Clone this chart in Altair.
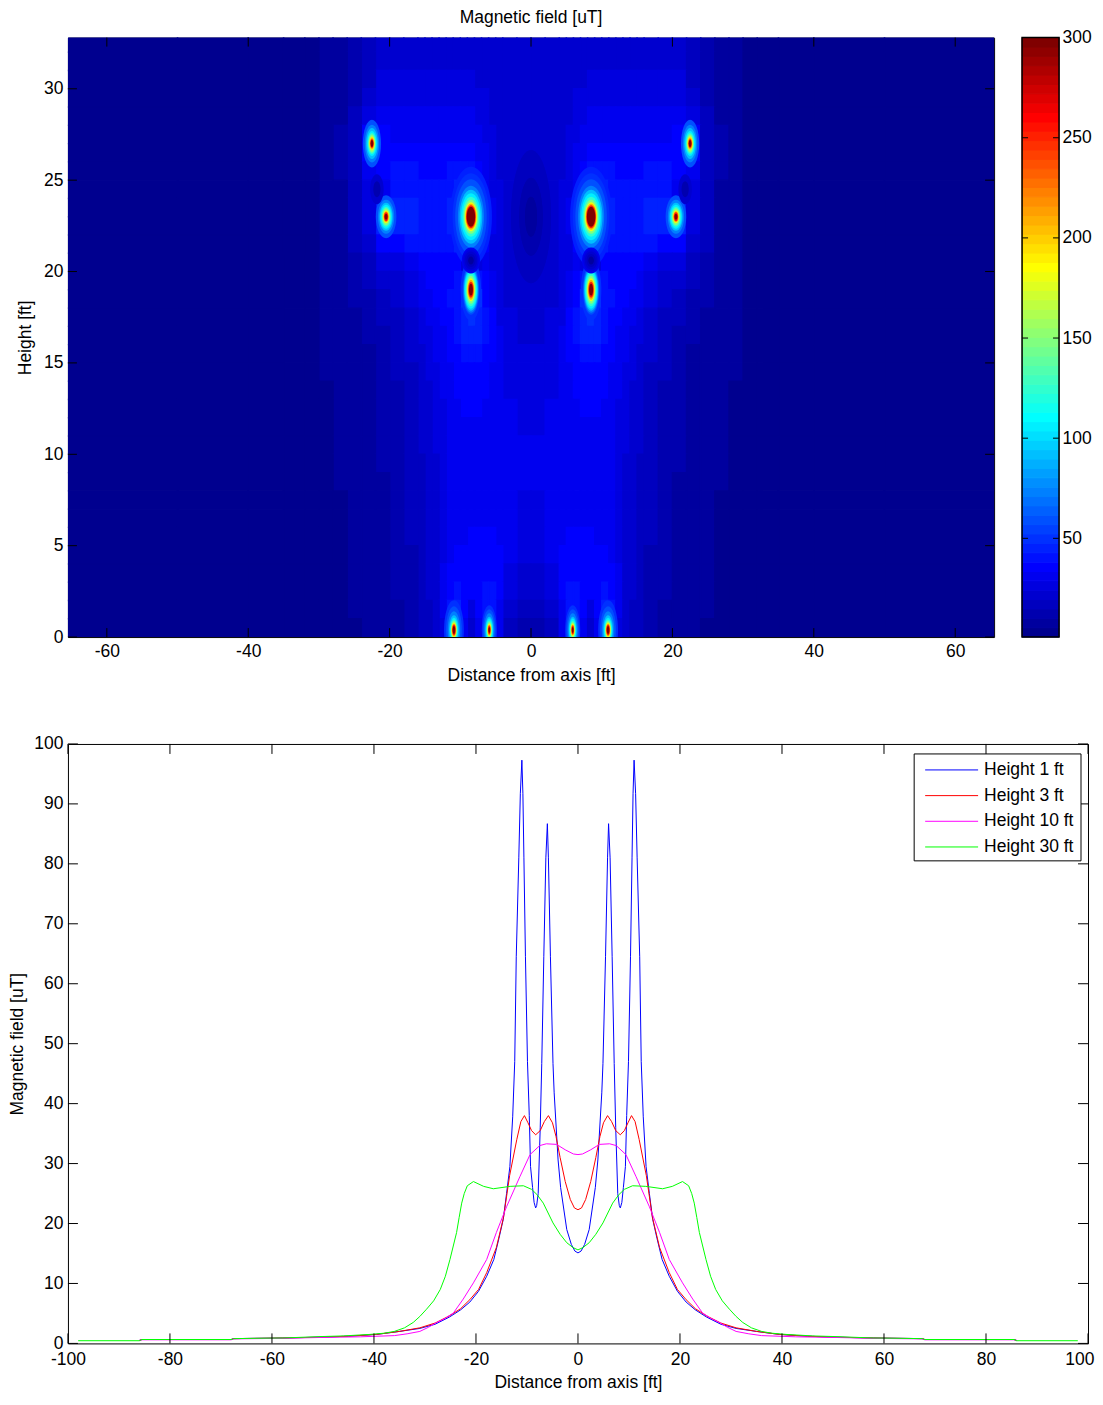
import altair as alt
import numpy as np
import pandas as pd

FONT = "Liberation Sans"
FS = 17.5

# ---- field map (one half, the field is mirrored about x = 0)
x_edges = [0,2,4,5,6,7,8,9,10,11,12,13,14,15,16,18,20,22,24,26,28,30,32,35,40,50,66]
y_edges = list(range(0, 34))
field_rows = [  # top row (y 32..33) first
[20,21,21,22,22,22,22,22,22,22,22,22,22,22,22,21,20,15,11,8,6,5,4,3,2,1],
[20,21,21,22,22,23,23,23,24,24,24,24,24,24,24,24,22,17,12,8,6,5,4,3,2,1],
[20,21,22,22,23,24,25,25,25,25,26,26,26,26,26,26,25,19,13,9,7,5,4,3,2,1],
[20,21,22,23,25,26,27,27,28,28,28,28,28,28,28,28,28,22,14,10,7,5,4,3,2,1],
[20,21,22,24,26,28,30,30,31,31,31,31,31,31,31,31,31,28,16,10,7,5,4,3,2,1],
[20,21,23,25,28,30,32,33,33,33,33,33,33,33,33,33,35,38,18,11,7,5,4,3,2,1],
[20,22,24,27,30,33,35,36,36,36,36,36,36,36,36,36,37,38,19,11,7,5,4,3,2,1],
[20,22,24,27,31,37,42,42,40,39,38,38,38,38,40,40,34,30,18,11,7,5,4,3,2,1],
[20,22,25,28,33,42,48,46,44,42,41,41,41,41,42,42,30,26,15,10,7,5,4,3,2,1],
[20,22,25,29,35,50,55,50,48,44,42,42,42,42,44,45,45,25,18,10,7,5,4,3,2,1],
[20,22,25,29,35,50,55,50,47,44,42,42,42,42,44,45,45,28,16,10,7,5,4,3,2,1],
[20,22,25,28,34,42,46,44,43,41,40,40,39,39,39,38,36,24,15,10,7,5,4,3,2,1],
[20,22,25,28,30,28,24,28,34,38,38,37,36,35,32,28,25,19,14,9,7,5,4,3,2,1],
[21,23,26,30,36,40,42,41,39,38,37,36,34,32,28,23,20,16,12,9,7,5,4,3,2,1],
[22,24,27,32,38,48,60,48,42,40,38,36,33,30,25,21,17,14,11,8,6,5,4,3,2,1],
[23,25,28,34,40,44,48,44,41,38,36,33,31,28,23,19,15,12,10,8,6,5,4,3,2,1],
[24,26,29,35,40,43,44,43,39,36,33,30,28,25,21,17,14,11,9,7,6,5,4,3,2,1],
[25,27,30,34,37,39,40,39,37,34,31,29,26,24,20,16,13,10,9,7,6,5,4,3,2,1],
[26,28,30,33,35,36,37,37,35,33,30,28,25,22,19,15,12,10,8,7,6,4,4,3,2,1],
[27,28,30,32,34,35,35,35,34,32,29,27,24,21,18,14,12,9,8,6,5,4,4,3,2,1],
[27,29,30,32,33,34,34,34,33,31,28,26,23,21,17,14,11,9,7,6,5,4,3,3,2,1],
[28,29,31,32,33,33,33,33,32,30,28,25,23,20,16,13,11,9,7,6,5,4,3,3,2,1],
[29,30,31,32,33,33,33,32,31,30,27,25,22,20,16,13,11,9,7,6,5,4,3,3,2,1],
[30,31,32,33,33,33,33,32,31,29,27,24,22,19,16,13,11,8,7,6,5,4,3,2,2,1],
[30,31,32,33,33,33,32,32,31,29,27,24,21,19,15,12,10,8,7,6,5,4,3,2,2,1],
[28,30,32,33,33,33,32,32,31,29,27,24,21,19,15,12,10,8,7,5,4,4,3,2,2,1],
[27,29,32,33,33,33,33,32,31,29,27,24,21,19,15,12,10,8,6,5,4,4,3,2,2,1],
[26,29,32,34,34,34,34,33,32,30,27,24,21,18,15,12,9,8,6,5,4,4,3,2,2,1],
[25,29,34,36,36,36,35,35,34,31,28,24,21,18,14,12,9,8,6,5,4,4,3,2,2,1],
[24,28,35,38,38,37,36,36,37,34,29,24,21,18,14,11,9,7,6,5,4,3,3,2,1,1],
[21,26,34,40,41,38,34,37,41,37,30,24,20,17,14,11,9,7,6,5,4,3,3,2,1,1],
[17,22,33,40,42,36,27,36,44,40,30,23,19,16,13,10,9,7,6,5,4,3,3,2,1,1],
[14,18,30,40,40,32,22,30,45,40,28,21,18,15,12,10,8,7,5,5,4,3,3,2,1,1],
]

# ---- local peaks and dips of the field: x, y, aspect and (level, contour height) pairs
spot_x = [0.0, 8.5, 8.5, 8.5, 20.5, 22.5, 21.8, 10.9, 5.9]
spot_y = [23.0, 23.0, 19.0, 20.6, 23.0, 27.0, 24.5, 0.38, 0.38]
spot_aspect = [0.30, 0.42, 0.33, 0.7, 0.48, 0.38, 0.45, 0.33, 0.30]
spot_levels = [
    [17,12,8],
    [45,50,60,75,90,105,125,150,180,210,250,300],
    [50,60,75,90,105,125,150,180,210,250,300],
    [30,25,20,15,10],
    [60,75,90,105,125,150,180,210,250,300],
    [60,75,90,105,125,150,180,210,250,300],
    [22,14],
    [50,60,75,90,105,125,150,180,210,250,300],
    [50,60,75,90,105,125,150,180,210,250,300],
]
spot_heights = [
    [133,78,40],
    [100,87,75,62,54,47,40,34,29,26,23,20],
    [62,50,46,42,38,33,28,23,20,16,12],
    [26,22,18,13,8],
    [43,34,28,24,20,17,13,11,9,6],
    [48,38,31,25,21,18,14,12,9,7],
    [30,16],
    [60,48,38,30,25,21,18,15,13,11,8],
    [50,42,34,27,23,19,16,13,11,9,6],
]

# ---- profiles (x >= 0 half, mirrored)
blue_x = [0,0.6,1.3,2.2,3.4,3.9,4.67,4.9,5.4,5.8,6.0,6.3,6.7,7.1,7.4,7.8,8.1,8.3,8.6,8.9,9.3,9.55,9.9,10.3,10.6,10.8,11,11.3,11.6,12.1,12.4,12.8,13.35,14,14.65,15.5,16.5,17.9,19.5,21.2,23,25.2,28,31,35,39.5,45,50,58,67.5,68,85.5,86]
blue_v = [15.1,15.4,16.5,19,26,30.6,41.8,46.7,64.5,81,86.7,81,64.5,46.7,36,25,23,22.6,23.5,26,29.5,38,47,64.5,81,91.7,97.3,91.7,81,64.5,47,37.8,29.5,25,20.7,17.5,14,11.2,8.7,6.9,5.6,4.4,3.2,2.5,2,1.5,1.2,1.05,0.9,0.8,0.65,0.65,0.5]
red_x = [0,0.7,1.5,2.5,3.5,4.3,5,5.8,6.6,7.4,8.3,9.1,9.8,10.5,11.2,12,13.4,14.6,16,17.9,19.5,21.2,23,25.2,28,31,35,39.5,45,50,58,67.5,68,85.5,86]
red_v = [22.3,22.6,24,27,31,34.5,36.8,38,37,35.5,34.8,35.5,36.8,38,37,34,28,21,16,11.8,9,7.3,5.8,4.6,3.4,2.6,2,1.5,1.2,1.05,0.9,0.8,0.65,0.65,0.5]
mag_x = [0,0.9,2.5,4.2,6.2,7.5,9.4,11.4,14,16,17.9,20.5,22.5,24.4,26,27.7,29.3,31,33.5,36,42.7,50,58,67.5,68,85.5,86]
mag_v = [31.5,31.6,32.3,33.2,33.3,33,31.5,27.8,22.8,18.5,14,10.1,7.4,5.1,4.2,3.5,2.7,2,1.6,1.3,1.1,1,0.85,0.75,0.6,0.6,0.5]
green_x = [0,1,2.2,3.5,4.9,6.8,8,9.1,10.7,13.3,16.6,18.5,20.5,21.7,22.3,22.8,23.3,23.8,25.1,26,27,28.3,29.7,31,32.3,34,36,38,40.8,46,50,58,67.5,68,85.5,86,98]
green_v = [15.6,16,16.8,18.2,20.1,23.4,24.8,25.7,26.3,26.2,25.8,26.2,27,26.3,25,23.4,21,18.5,14,11.2,9,7.1,5.7,4.5,3.5,2.6,2,1.7,1.5,1.25,1.15,0.9,0.8,0.65,0.65,0.45,0.45]
series_names = ["Height 1 ft", "Height 3 ft", "Height 10 ft", "Height 30 ft"]
series_colors = ["#0000ff", "#ff0000", "#ff00ff", "#00ff00"]

top_xticks = [-60,-40,-20,0,20,40,60]
top_yticks = [0,5,10,15,20,25,30]
bar_ticks = [50,100,150,200,250,300]
bot_xticks = list(range(-100,101,20))
bot_yticks = list(range(0,101,10))

# ---- jet colormap, 64 steps
def jet(n=64):
    out = []
    for i in range(n):
        t = (i + 1) / n
        r = np.clip(min(4*t-1.5, -4*t+4.5), 0, 1)
        g = np.clip(min(4*t-0.5, -4*t+3.5), 0, 1)
        b = np.clip(min(4*t+0.5, -4*t+2.5), 0, 1)
        out.append("#%02x%02x%02x" % (int(round(r*255)), int(round(g*255)), int(round(b*255))))
    return out
JET = jet()
C_MIN, C_MAX = 0.7, 300
color_scale = alt.Scale(type="quantize", domain=[C_MIN, C_MAX], range=JET)

W1, H1 = 927, 600
W2, H2 = 1021, 600

# ---- tables
cells = []
for r, row in enumerate(field_rows):
    y1 = y_edges[len(field_rows) - 1 - r]
    y2 = y_edges[len(field_rows) - r]
    for c, v in enumerate(row):
        for s in (-1, 1):
            a, b = s * x_edges[c], s * x_edges[c + 1]
            cells.append(dict(x=a, x2=b, y=y1, y2=y2, v=v))
cells = pd.DataFrame(cells)

x1_scale = alt.Scale(domain=[-65.5, 65.5], nice=False, zero=False)
y1_scale = alt.Scale(domain=[0, 32.8], nice=False, zero=False)

x1_axis = alt.Axis(values=top_xticks, ticks=False, domain=False, grid=False, labelFlush=False,
                   title="Distance from axis [ft]", labelExpr="'' + datum.value",
                   labelPadding=5, titlePadding=7)
y1_axis = alt.Axis(values=top_yticks, ticks=False, domain=False, grid=False, labelFlush=False,
                   title="Height [ft]", labelExpr="'' + datum.value", labelPadding=5, titlePadding=9)

heat = alt.Chart(cells).mark_rect(clip=True, strokeWidth=1.4, opacity=1).encode(
    x=alt.X("x:Q", scale=x1_scale, axis=x1_axis),
    x2="x2:Q",
    y=alt.Y("y:Q", scale=y1_scale, axis=y1_axis),
    y2="y2:Q",
    color=alt.Color("v:Q", scale=color_scale, legend=None),
    stroke=alt.Stroke("v:Q", scale=color_scale, legend=None),
)

spot_layers = []
for k in range(len(spot_x)):
    rows = []
    for lv, h in zip(spot_levels[k], spot_heights[k]):
        for s in (-1, 1):
            rows.append(dict(x=s*spot_x[k], y=spot_y[k], v=lv, s=h*h))
    asp = spot_aspect[k]
    path = f"M{-asp},0 A{asp},1 0 1,1 {asp},0 A{asp},1 0 1,1 {-asp},0 Z"
    spot_layers.append(alt.Chart(pd.DataFrame(rows)).mark_point(shape=path, filled=True, opacity=1, clip=True, strokeWidth=0).encode(
        x=alt.X("x:Q", scale=x1_scale, axis=x1_axis),
        y=alt.Y("y:Q", scale=y1_scale, axis=y1_axis),
        color=alt.Color("v:Q", scale=color_scale, legend=None),
        size=alt.Size("s:Q", scale=None, legend=None),
    ))

def ticks(xvals, yvals, w, h, lx, ly, xs, ys, xa, ya):
    tx = pd.DataFrame({"t": xvals})
    ty = pd.DataFrame({"t": yvals})
    out = []
    for a, b in ((h, h - lx), (0, lx)):
        out.append(alt.Chart(tx).mark_rule(color="#000", strokeWidth=1).encode(
            x=alt.X("t:Q", scale=xs, axis=xa), y=alt.value(a), y2=alt.value(b)))
    for a, b in ((0, ly), (w, w - ly)):
        out.append(alt.Chart(ty).mark_rule(color="#000", strokeWidth=1).encode(
            y=alt.Y("t:Q", scale=ys, axis=ya), x=alt.value(a), x2=alt.value(b)))
    return out

top_main = alt.LayerChart(layer=[heat] + spot_layers + ticks(top_xticks, top_yticks, W1, H1, 9, 9, x1_scale, y1_scale, x1_axis, y1_axis))

# ---- colour bar
edges = np.linspace(C_MIN, C_MAX, 65)
bar_df = pd.DataFrame({"lo": edges[:-1], "hi": edges[1:], "v": (edges[:-1] + edges[1:]) / 2})
bar_scale = alt.Scale(domain=[C_MIN, C_MAX], nice=False, zero=False)
bar_axis = alt.Axis(orient="right", offset=65, values=bar_ticks, ticks=False, domain=False, labelFlush=False,
                    grid=False, title=None, labelPadding=3, labelExpr="'' + datum.value")
BX0, BX1 = W1 + 28, W1 + 65
bar = alt.Chart(bar_df).mark_rect(strokeWidth=1, opacity=1).encode(
    x=alt.value(BX0), x2=alt.value(BX1),
    y=alt.Y("lo:Q", scale=bar_scale, axis=bar_axis),
    y2="hi:Q",
    color=alt.Color("v:Q", scale=color_scale, legend=None),
    stroke=alt.Stroke("v:Q", scale=color_scale, legend=None),
)
bar_box = alt.Chart(pd.DataFrame({"a": [C_MIN], "b": [C_MAX]})).mark_rect(fillOpacity=0, stroke="#000", strokeWidth=1.5).encode(
    x=alt.value(BX0), x2=alt.value(BX1),
    y=alt.Y("a:Q", scale=bar_scale, axis=bar_axis), y2="b:Q")
bt = pd.DataFrame({"t": bar_ticks[:-1]})
bar_t1 = alt.Chart(bt).mark_rule(color="#000").encode(
    y=alt.Y("t:Q", scale=bar_scale, axis=bar_axis), x=alt.value(BX0), x2=alt.value(BX0 + 6))
bar_t2 = alt.Chart(bt).mark_rule(color="#000").encode(
    y=alt.Y("t:Q", scale=bar_scale, axis=bar_axis), x=alt.value(BX1 - 6), x2=alt.value(BX1))
bar_layer = alt.LayerChart(layer=[bar, bar_box, bar_t1, bar_t2])

top = alt.LayerChart(layer=[top_main, bar_layer]).resolve_scale(y="independent").properties(
    width=W1, height=H1,
    title=alt.TitleParams("Magnetic field [uT]", font=FONT, fontSize=FS, fontWeight="normal",
                          color="#000", anchor="middle", offset=2),
)

# ---- profiles
profiles = []
for name, xs_, vs_ in zip(series_names, (blue_x, red_x, mag_x, green_x), (blue_v, red_v, mag_v, green_v)):
    for a, b in zip(xs_, vs_):
        profiles.append(dict(x=a, v=b, s=name))
        if a != 0:
            profiles.append(dict(x=-a, v=b, s=name))
profiles = pd.DataFrame(profiles)

x2_scale = alt.Scale(domain=[-100, 100], nice=False, zero=False)
y2_scale = alt.Scale(domain=[0, 100], nice=False, zero=False)
x2_axis = alt.Axis(values=bot_xticks, ticks=False, domain=False, grid=False, labelFlush=False,
                   title="Distance from axis [ft]", labelExpr="'' + datum.value",
                   labelPadding=7, titlePadding=6,
                   labelAlign={"condition": {"test": "datum.value == 100", "value": "right"}, "value": "center"},
                   labelOffset={"condition": {"test": "datum.value == 100", "value": 6}, "value": 0})
y2_axis = alt.Axis(values=bot_yticks, ticks=False, domain=False, grid=False, labelFlush=False,
                   title="Magnetic field [uT]", labelExpr="'' + datum.value",
                   labelPadding=5, titlePadding=7)

lines = []
for name, col in zip(series_names, series_colors):
    lines.append(alt.Chart(profiles[profiles.s == name]).mark_line(color=col, strokeWidth=1, clip=True).encode(
        x=alt.X("x:Q", scale=x2_scale, axis=x2_axis),
        y=alt.Y("v:Q", scale=y2_scale, axis=y2_axis),
    ))

one = pd.DataFrame({"n": [0]})
LX0, LX1, LY0, LY1 = 847, 1014, 10, 117
legend = [alt.Chart(one).mark_rect(fill="#fff", stroke="#000", strokeWidth=1).encode(
    x=alt.value(LX0), x2=alt.value(LX1), y=alt.value(LY0), y2=alt.value(LY1))]
for i, (name, col) in enumerate(zip(series_names, series_colors)):
    ypos = 26 + 25.7 * i
    legend.append(alt.Chart(one).mark_rule(color=col, strokeWidth=1).encode(
        x=alt.value(858), x2=alt.value(911), y=alt.value(ypos)))
    legend.append(alt.Chart(one).mark_text(text=name, align="left", baseline="middle", font=FONT,
                                           fontSize=FS, color="#000").encode(
        x=alt.value(917), y=alt.value(ypos)))

bottom = alt.LayerChart(layer=lines + ticks(bot_xticks, bot_yticks, W2, H2, 10, 10, x2_scale, y2_scale, x2_axis, y2_axis) + legend).properties(
    width=W2, height=H2)

chart = alt.vconcat(top, bottom, spacing=49).resolve_scale(color="independent", stroke="independent").properties(
    padding=0, background="#ffffff"
).configure_view(stroke="#000", strokeWidth=1).configure_axis(
    labelFont=FONT, titleFont=FONT, labelFontSize=FS, titleFontSize=FS,
    labelColor="#000", titleColor="#000", titleFontWeight="normal",
)

chart.save("out.html", embed_options={"renderer": "svg", "actions": False})
